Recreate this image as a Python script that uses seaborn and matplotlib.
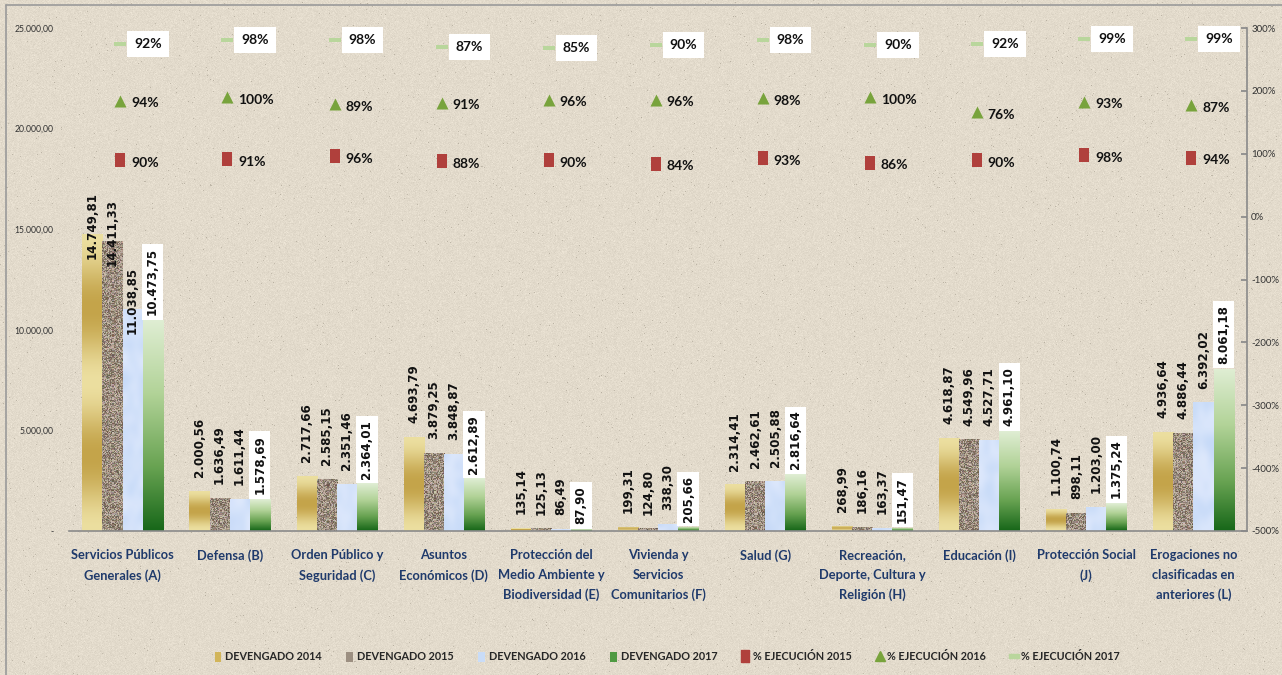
import numpy as np
import pandas as pd
import matplotlib
matplotlib.use("Agg")
import matplotlib.pyplot as plt
import seaborn as sns
from matplotlib.path import Path
from matplotlib.markers import MarkerStyle
from matplotlib.ticker import FuncFormatter, FixedLocator
from matplotlib.patches import Patch
from matplotlib.lines import Line2D

# ---------------------------------------------------------------- data
categorias = [
    "Servicios Públicos\nGenerales (A)",
    "Defensa (B)",
    "Orden Público y\nSeguridad (C)",
    "Asuntos\nEconómicos (D)",
    "Protección del\nMedio Ambiente y\nBiodiversidad (E)",
    "Vivienda y\nServicios\nComunitarios (F)",
    "Salud (G)",
    "Recreación,\nDeporte, Cultura y\nReligión (H)",
    "Educación (I)",
    "Protección Social\n(J)",
    "Erogaciones no\nclasificadas en\nanteriores (L)",
]
series_devengado = ["DEVENGADO 2014", "DEVENGADO 2015", "DEVENGADO 2016", "DEVENGADO 2017"]
devengado_2014 = [14749.81, 2000.56, 2717.66, 4693.79, 135.14, 199.31, 2314.41, 268.99, 4618.87, 1100.74, 4936.64]
devengado_2015 = [14411.33, 1636.49, 2585.15, 3879.25, 125.13, 124.80, 2462.61, 186.16, 4549.96, 898.11, 4886.44]
devengado_2016 = [11038.85, 1611.44, 2351.46, 3848.87, 86.49, 338.30, 2505.88, 163.37, 4527.71, 1203.00, 6392.02]
devengado_2017 = [10473.75, 1578.69, 2364.01, 2612.89, 87.90, 205.66, 2816.64, 151.47, 4961.10, 1375.24, 8061.18]

series_ejecucion = ["% EJECUCIÓN 2015", "% EJECUCIÓN 2016", "% EJECUCIÓN 2017"]
ejecucion_2015 = [90, 91, 96, 88, 90, 84, 93, 86, 90, 98, 94]
ejecucion_2016 = [94, 100, 89, 91, 96, 96, 98, 100, 76, 93, 87]
ejecucion_2017 = [92, 98, 98, 87, 85, 90, 98, 90, 92, 99, 99]

# vertical stacking of the three execution rows on the secondary axis
desplazamiento_ejecucion = [0.0, 0.90, 1.83]

# ---------------------------------------------------------------- style
W, H = 1282, 675
FONT_TEXT = ["Lato", "DejaVu Sans"]
NAVY = "#1f3a6b"
AXIS_GRAY = "#8a8a8a"

sns.set_theme(style="white")
plt.rcParams["font.family"] = FONT_TEXT
plt.rcParams["axes.unicode_minus"] = False


def fmt_es(v):
    s = f"{v:,.2f}"
    return s.replace(",", "X").replace(".", ",").replace("X", ".")


fig = plt.figure(figsize=(W / 100, H / 100), dpi=100)

# paper-like background
rng = np.random.default_rng(7)
base = np.array([227, 219, 204], dtype=float)
bg = base + rng.normal(0, 4.0, (H, W, 1))
specks = rng.random((H, W)) < 0.004
bg[specks] -= 35
bg = np.clip(bg, 0, 255).astype(np.uint8)
fig.figimage(bg, 0, 0, zorder=-10, origin="upper")

# chart frame (left and top edges visible)
fig.add_artist(plt.Line2D([6 / W, 6 / W], [0, 1 - 5 / H], transform=fig.transFigure, color="#9a9a9a", lw=1.2))
fig.add_artist(plt.Line2D([6 / W, 1], [1 - 5 / H, 1 - 5 / H], transform=fig.transFigure, color="#9a9a9a", lw=1.2))

ax_left, ax_right, ax_top, ax_bottom = 69, 1247, 28, 531
ax = fig.add_axes([ax_left / W, 1 - ax_bottom / H, (ax_right - ax_left) / W, (ax_bottom - ax_top) / H])
ax.set_facecolor("none")

# ---------------------------------------------------------------- bars
df = pd.DataFrame({
    "categoria": categorias * 4,
    "serie": np.repeat(series_devengado, len(categorias)),
    "valor": devengado_2014 + devengado_2015 + devengado_2016 + devengado_2017,
})
base_colors = ["#d2b55a", "#9c8f81", "#c9dcf7", "#4f9a42"]
sns.barplot(data=df, x="categoria", y="valor", hue="serie", palette=base_colors,
            saturation=1, width=0.75, linewidth=0, legend=False, ax=ax, errorbar=None)

ax.set_xlim(-0.5, len(categorias) - 0.5)
ax.set_ylim(0, 25000)
px_per_unit = (ax_bottom - ax_top) / 25000.0


def stops_gradient(n, stops):
    t = np.linspace(0, 1, n)
    pos = [s[0] for s in stops]
    cols = np.array([s[1] for s in stops], dtype=float)
    return np.stack([np.interp(t, pos, cols[:, c]) for c in range(3)], axis=1)


def texture(kind, h_px, w_px=20):
    """Fill image for one bar; returns (array, interpolation)."""
    h_px = max(int(round(h_px)), 2)
    if kind == 0:  # gold bands
        n = max(1, int(round(h_px / 150.0)))
        t = np.linspace(0, 1, h_px)
        k = (1 - np.cos(2 * np.pi * n * t)) / 2
        light = np.array([236, 223, 160], float)
        dark = np.array([196, 164, 74], float)
        col = light + (dark - light) * k[:, None]
        img = np.repeat(col[:, None, :], 4, axis=1)
        interp = "bilinear"
    elif kind == 1:  # granite
        r = rng.random((h_px, w_px, 1))
        img = np.array([156, 142, 128], float) + (r - 0.5) * 100
        img += rng.normal(0, 6, (h_px, w_px, 3))
        interp = "nearest"
    elif kind == 2:  # pale blue mottling
        small = rng.random((max(h_px // 8, 2), 4, 1))
        img = np.array([198, 218, 248], float) + small * np.array([26, 16, 5], float)
        interp = "bicubic"
    else:  # green fade
        col = stops_gradient(max(h_px, 8), [(0, (224, 238, 212)), (0.35, (178, 211, 152)),
                                            (0.7, (104, 163, 82)), (1.0, (24, 104, 26))])
        img = np.repeat(col[:, None, :], 4, axis=1)
        interp = "bilinear"
    return np.clip(img, 0, 255).astype(np.uint8), interp


for k, cont in enumerate(ax.containers):
    for bar in cont.patches:
        x0, w, h = bar.get_x(), bar.get_width(), bar.get_height()
        img, interp = texture(k, h * px_per_unit)
        im = ax.imshow(img, extent=[x0, x0 + w, 0, h], aspect="auto",
                       interpolation=interp, zorder=bar.get_zorder() + 0.1)
        im.set_clip_path(bar)

ax.set_xlim(-0.5, len(categorias) - 0.5)
ax.set_ylim(0, 25000)

# value labels on bars
for k, cont in enumerate(ax.containers):
    for bar in cont.patches:
        h = bar.get_height()
        xc = bar.get_x() + bar.get_width() / 2
        txt = fmt_es(h)
        kw = dict(rotation=90, ha="center", fontsize=8.6, fontweight="bold",
                  family="DejaVu Sans", color="#111111", textcoords="offset points", zorder=6)
        if k == 3:
            ax.annotate(txt, (xc, h), xytext=(0, 3.5), va="bottom",
                        bbox=dict(boxstyle="square,pad=0.35", fc="white", ec="none"), **kw)
        elif h > 11000:
            ax.annotate(txt, (xc, h), xytext=(0, 6), va="center", **kw)
        else:
            ax.annotate(txt, (xc, h), xytext=(0, 10), va="bottom", **kw)

# axes cosmetics
for side in ["left", "top", "right"]:
    ax.spines[side].set_visible(False)
ax.spines["bottom"].set_color(AXIS_GRAY)
ax.spines["bottom"].set_linewidth(1.2)
ax.yaxis.set_major_locator(FixedLocator(np.arange(0, 25001, 5000)))
ax.yaxis.set_major_formatter(FuncFormatter(lambda v, p: "-" if v == 0 else fmt_es(v)))
ax.tick_params(axis="y", length=0, pad=11, labelsize=6.2, labelcolor="#333333")
ax.tick_params(axis="x", length=0, pad=13)
ax.set_xlabel("")
ax.set_ylabel("")
ax.set_xticks(range(len(categorias)))
ax.set_xticklabels(categorias, fontsize=9.3, fontweight="bold", color=NAVY, linespacing=1.75)

# ---------------------------------------------------------------- execution percentages
ax2 = ax.twinx()
ax2.set_ylim(-5, 3)
ax2.yaxis.set_major_locator(FixedLocator(np.arange(-5, 3.01, 1)))
ax2.yaxis.set_major_formatter(FuncFormatter(lambda v, p: f"{v * 100:.0f}%"))
ax2.tick_params(axis="y", direction="in", length=4, color=AXIS_GRAY, pad=3, labelsize=7, labelcolor="#333333")
for side in ["left", "top", "bottom"]:
    ax2.spines[side].set_visible(False)
ax2.spines["right"].set_color(AXIS_GRAY)
ax2.spines["right"].set_linewidth(1.2)
ax2.grid(False)

dash = MarkerStyle(Path([(-1, -0.32), (1, -0.32), (1, 0.32), (-1, 0.32), (-1, -0.32)], closed=True))
square = MarkerStyle(Path([(-0.8, -1), (0.8, -1), (0.8, 1), (-0.8, 1), (-0.8, -1)], closed=True))
marker_specs = [
    (ejecucion_2015, square, "#b0403c", 90),
    (ejecucion_2016, "^", "#78a33c", 75),
    (ejecucion_2017, dash, "#b9d69c", 70),
]
xs = np.arange(len(categorias))
for j, (vals, mk, col, size) in enumerate(marker_specs):
    ys = np.array(vals) / 100.0 + desplazamiento_ejecucion[j]
    sns.scatterplot(x=xs - 0.02, y=ys, marker=mk, color=col, s=size, linewidth=0, ax=ax2, zorder=5, legend=False)
    for x, y, v in zip(xs, ys, vals):
        kw = dict(ha="left", va="center", fontsize=10, fontweight="bold", color="#111111", zorder=6)
        if j == 2:
            kw["bbox"] = dict(boxstyle="square,pad=0.5", fc="white", ec="none")
            ax2.text(x + 0.11, y, f"{v}%", **kw)
        else:
            ax2.text(x + 0.08, y - 0.04, f"{v}%", **kw)
ax2.set_xlim(-0.5, len(categorias) - 0.5)
ax2.set_ylabel("")

# ---------------------------------------------------------------- legend
handles = [Patch(facecolor=c, edgecolor="none") for c in base_colors]
handles += [
    Line2D([], [], linestyle="none", marker=square, markersize=8, color="#b0403c"),
    Line2D([], [], linestyle="none", marker="^", markersize=7, color="#78a33c"),
    Line2D([], [], linestyle="none", marker=dash, markersize=7, color="#b9d69c"),
]
labels = series_devengado + series_ejecucion
fig.legend(handles, labels, loc="center", bbox_to_anchor=(667 / W, 1 - 657 / H), ncol=7,
           frameon=False, handlelength=0.6, handleheight=1.1, handletextpad=0.35,
           columnspacing=2.3, prop=dict(family=FONT_TEXT, weight="bold", size=7.8))

fig.savefig("out.png", dpi=100, facecolor=fig.get_facecolor())
